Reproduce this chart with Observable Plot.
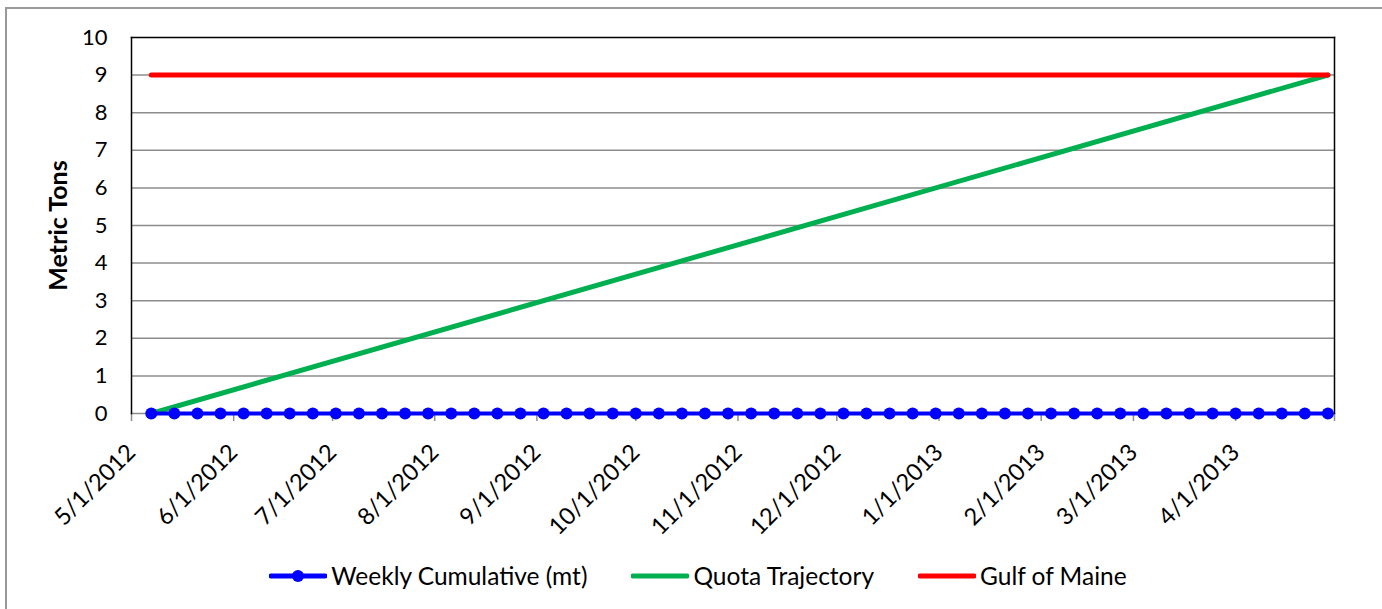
<!DOCTYPE html>
<html>
<head>
<meta charset="utf-8">
<script src="https://cdn.jsdelivr.net/npm/d3@7"></script>
<script src="https://cdn.jsdelivr.net/npm/@observablehq/plot@0.6"></script>
<style>
  html, body { margin: 0; padding: 0; background: #fff; overflow: hidden; }
  body { width: 1382px; height: 609px; position: relative; font-family: Lato, "Open Sans", sans-serif; }
  #border { position: absolute; left: 5px; top: 7px; width: 1400px; height: 700px; border: 2px solid #999; box-sizing: border-box; }
  #chart { position: absolute; left: 0; top: 0; }
  #legend { position: absolute; left: 0; top: 561px; width: 1396px; display: flex; justify-content: center; align-items: center; font-size: 24.5px; color: #000; }
  .item { display: flex; align-items: center; margin-right: 44px; }
  .item:last-child { margin-right: 0; }
  .item svg { margin-right: 4px; }
</style>
</head>
<body>
<div id="border"></div>
<div id="chart"></div>
<div id="legend"></div>
<script>
// ---- data ----
const weekDates = [
  "2012-05-07","2012-05-14","2012-05-21","2012-05-28","2012-06-04","2012-06-11","2012-06-18","2012-06-25",
  "2012-07-02","2012-07-09","2012-07-16","2012-07-23","2012-07-30","2012-08-06","2012-08-13","2012-08-20",
  "2012-08-27","2012-09-03","2012-09-10","2012-09-17","2012-09-24","2012-10-01","2012-10-08","2012-10-15",
  "2012-10-22","2012-10-29","2012-11-05","2012-11-12","2012-11-19","2012-11-26","2012-12-03","2012-12-10",
  "2012-12-17","2012-12-24","2012-12-31","2013-01-07","2013-01-14","2013-01-21","2013-01-28","2013-02-04",
  "2013-02-11","2013-02-18","2013-02-25","2013-03-04","2013-03-11","2013-03-18","2013-03-25","2013-04-01",
  "2013-04-08","2013-04-15","2013-04-22","2013-04-29"
];
const weeklyCumulative = [
  0,0,0,0,0,0,0,0,0,0,0,0,0,0,0,0,0,0,0,0,0,0,0,0,0,0,
  0,0,0,0,0,0,0,0,0,0,0,0,0,0,0,0,0,0,0,0,0,0,0,0,0,0
];
const quotaDates = ["2012-05-07", "2013-04-29"];
const quotaValues = [0, 9];
const gomDates = ["2012-05-07", "2013-04-29"];
const gomValues = [9, 9];
const tickDates = ["2012-05-01","2012-06-01","2012-07-01","2012-08-01","2012-09-01","2012-10-01",
  "2012-11-01","2012-12-01","2013-01-01","2013-02-01","2013-03-01","2013-04-01","2013-05-01"];
const tickLabels = ["5/1/2012","6/1/2012","7/1/2012","8/1/2012","9/1/2012","10/1/2012",
  "11/1/2012","12/1/2012","1/1/2013","2/1/2013","3/1/2013","4/1/2013",""];
const yTicks = [0,1,2,3,4,5,6,7,8,9,10];
const gridValues = [1,2,3,4,5,6,7,8,9];
const seriesNames = ["Weekly Cumulative (mt)", "Quota Trajectory", "Gulf of Maine"];
const seriesColors = ["#0000FF", "#00B050", "#FF0000"];

// ---- build ----
const P = d3.utcParse("%Y-%m-%d");
const weekly = weekDates.map((d, i) => ({date: P(d), value: weeklyCumulative[i]}));
const quota = quotaDates.map((d, i) => ({date: P(d), value: quotaValues[i]}));
const gom = gomDates.map((d, i) => ({date: P(d), value: gomValues[i]}));
const ticks = tickDates.map(P);
const labelMap = new Map(ticks.map((t, i) => [+t, tickLabels[i]]));

const chart = Plot.plot({
  width: 1382,
  height: 555,
  marginLeft: 131,
  marginRight: 48,
  marginTop: 37,
  marginBottom: 142,
  style: {fontFamily: "Lato, 'Open Sans', sans-serif", fontSize: "21px", color: "#000", background: "transparent"},
  x: {type: "utc", domain: [ticks[0], ticks[ticks.length - 1]]},
  y: {domain: [0, 10]},
  marks: [
    Plot.gridY(gridValues, {stroke: "#8c8c8c", strokeOpacity: 1, strokeWidth: 1.5}),
    Plot.ruleY([0], {stroke: "#8c8c8c", strokeWidth: 1.5}),
    Plot.axisX(ticks, {tickFormat: d => labelMap.get(+d), tickRotate: -45, tickSize: 8, stroke: "#8c8c8c", strokeWidth: 1.5, tickPadding: 27, fontSize: 23.5, fill: "#000", label: null}),
    Plot.axisY(yTicks, {tickSize: 0, tickPadding: 24, fontSize: 22, fill: "#000", label: null}),
    Plot.text(["Metric Tons"], {frameAnchor: "left", textAnchor: "middle", dx: -73, rotate: -90, fontSize: 25, fontWeight: "bold", fill: "#000"}),
    Plot.line(quota, {x: "date", y: "value", stroke: seriesColors[1], strokeWidth: 5, strokeLinecap: "round"}),
    Plot.line(gom, {x: "date", y: "value", stroke: seriesColors[2], strokeWidth: 5, strokeLinecap: "round"}),
    Plot.line(weekly, {x: "date", y: "value", stroke: seriesColors[0], strokeWidth: 4}),
    Plot.dot(weekly, {x: "date", y: "value", r: 6, fill: seriesColors[0], stroke: null}),
    Plot.frame({stroke: "#000", strokeWidth: 1.5, anchor: "top"}),
    Plot.frame({stroke: "#000", strokeWidth: 1.5, anchor: "left"}),
    Plot.frame({stroke: "#000", strokeWidth: 1.5, anchor: "right"})
  ]
});
document.getElementById("chart").appendChild(chart);

// legend (HTML)
const legend = document.getElementById("legend");
seriesNames.forEach((name, i) => {
  const item = document.createElement("div");
  item.className = "item";
  const w = 58;
  let sw = `<svg width="${w}" height="14"><line x1="2" y1="7" x2="${w-2}" y2="7" stroke="${seriesColors[i]}" stroke-width="5" stroke-linecap="round"/>`;
  if (i === 0) sw += `<circle cx="${w/2}" cy="7" r="6" fill="${seriesColors[i]}"/>`;
  sw += `</svg>`;
  item.innerHTML = sw + `<span>${name}</span>`;
  legend.appendChild(item);
});
</script>
</body>
</html>
